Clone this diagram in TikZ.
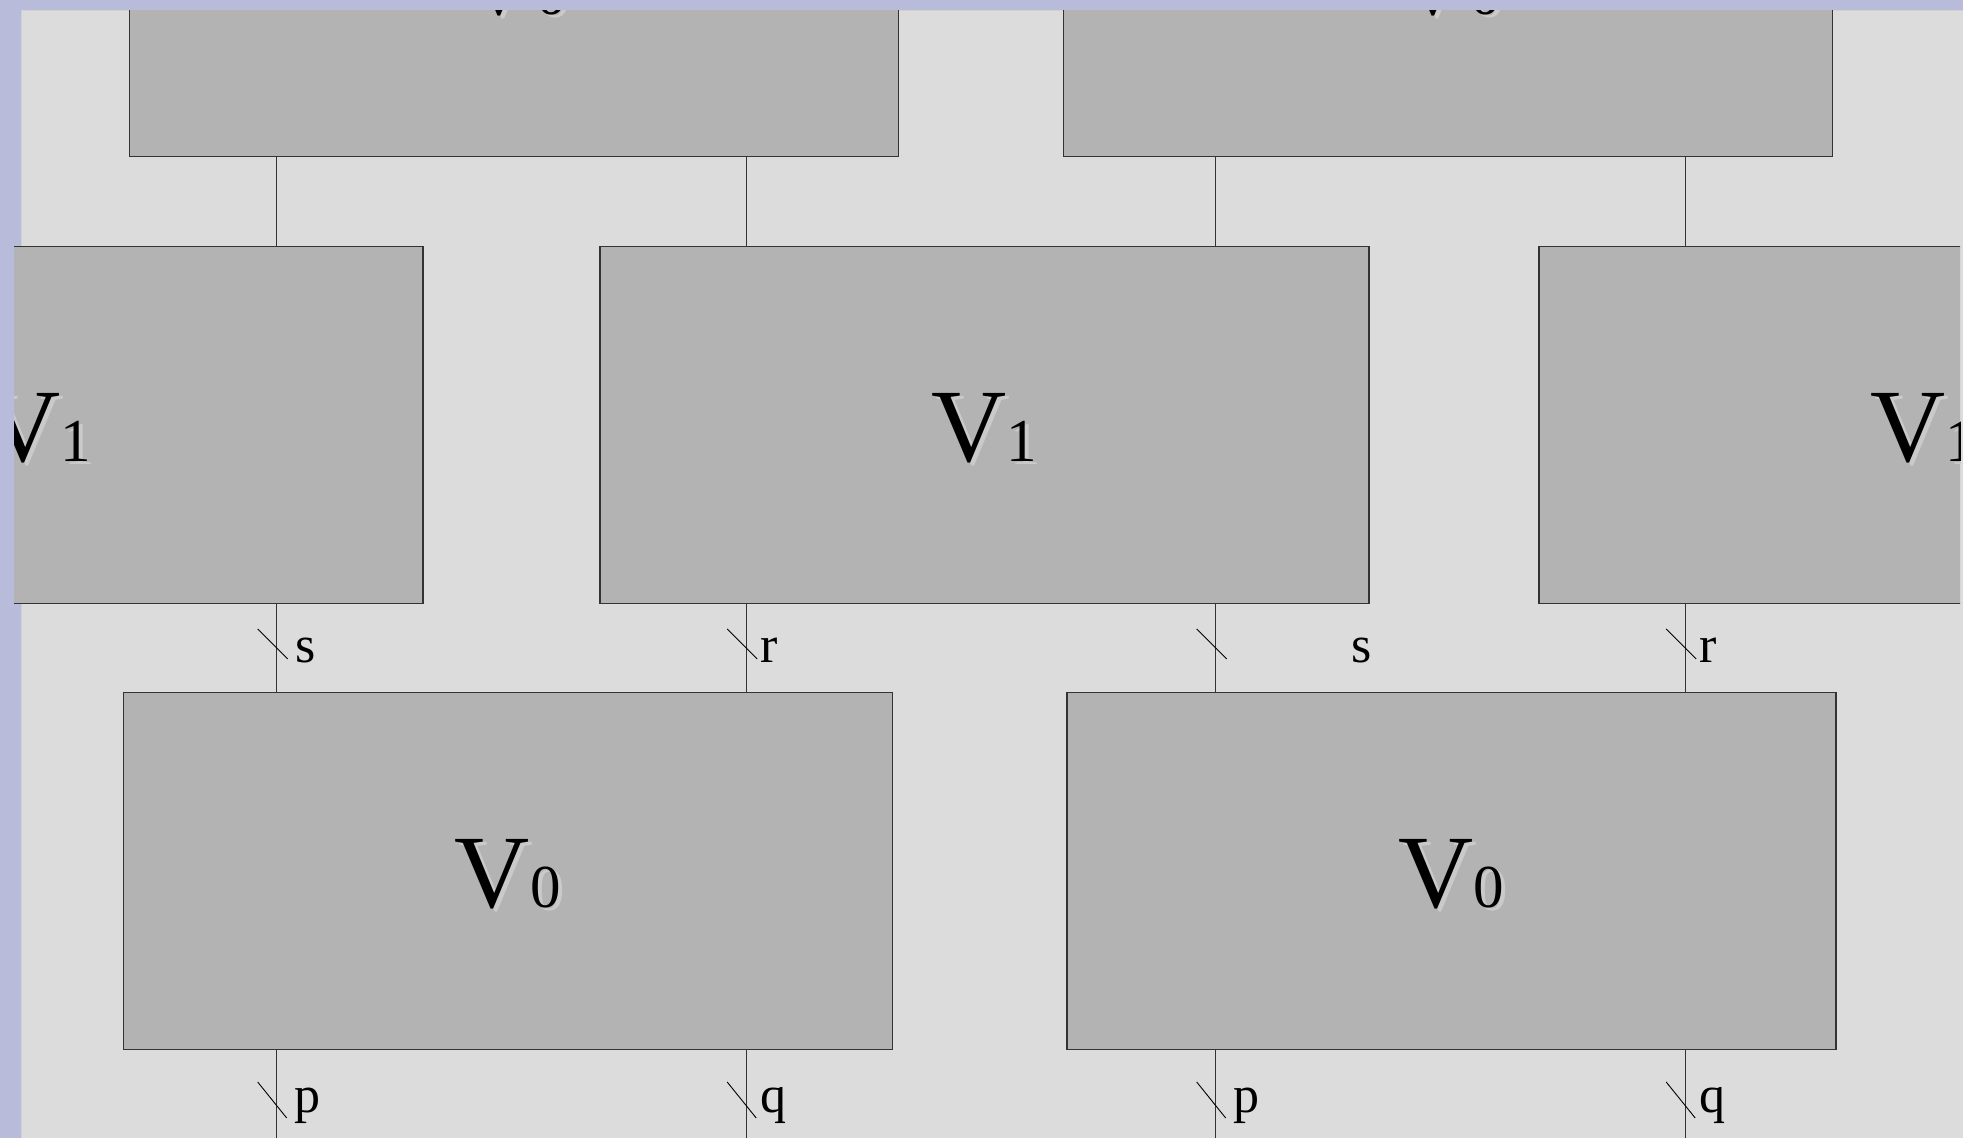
\documentclass[tikz,border=0pt]{standalone}
\usepackage{fontspec}
\setmainfont{Liberation Serif}

\newlength{\du}
\setlength{\du}{1pt}

\definecolor{framecolor}{HTML}{B8BCDA}
\definecolor{rimcolor}{HTML}{CED2CC}
\definecolor{canvascolor}{HTML}{DCDCDC}
\definecolor{gatecolor}{HTML}{B3B3B3}
\definecolor{edgecolor}{HTML}{333333}
\definecolor{shadecolor}{HTML}{CACACA}

\tikzset{
	gate/.style={draw=edgecolor, fill=gatecolor, line width=1.4\du,
		minimum width=769\du, minimum height=357\du, inner sep=0pt, outer sep=0pt},
	wire/.style={draw=black!80, line width=1.1\du},
	slash/.style={draw=black, line width=0.9\du},
	leg/.style={anchor=base west, inner sep=0pt, font=\fontsize{52}{52}\selectfont},
	gatetext/.style={anchor=base, inner sep=0pt},
	gateshade/.style={gatetext, text=shadecolor},
}

% V with its index, index set smaller on the same baseline
\newcommand{\gatename}[1]{\fontsize{104}{104}\selectfont V\fontsize{61}{61}\selectfont #1}

\begin{document}
\begin{tikzpicture}[x=\du, y=-\du]
	\useasboundingbox (0,0) rectangle (1963,1138);
	% window frame and canvas
	\fill[framecolor] (0,0) rectangle (1963,1138);
	\fill[canvascolor] (21,10) rectangle (1963,1138);
	\draw[rimcolor, line width=1\du] (21.5,1138) -- (21.5,10.5) -- (1963,10.5);

	\begin{scope}
		\clip (14,10) rectangle (1960,1138);

		% columns of the legs and rows of the slashes
		\coordinate (c1) at (276.7,0);
		\coordinate (c2) at (746.2,0);
		\coordinate (c3) at (1215.7,0);
		\coordinate (c4) at (1685.2,0);
		\coordinate (r1) at (0,648);
		\coordinate (r2) at (0,1105);
		\coordinate (r3) at (0,1138);

		% top row
		\node[gate] (top1) at (514,-22) {};
		\node[gate] (top2) at (1448,-22) {};
		% middle row
		\node[gate] (mid1) at (38.5,425) {};
		\node[gate] (mid2) at (984.3,425) {};
		\node[gate] (mid3) at (1923.5,425) {};
		% bottom row
		\node[gate] (bot1) at (507.7,871) {};
		\node[gate] (bot2) at (1451.5,871) {};

		% names with their light shade
		\foreach \g/\n in {top1/0,top2/0,mid1/1,mid2/1,mid3/1,bot1/0,bot2/0} {
			\node[gateshade] at ([shift={(4,39)}]\g.center) {\gatename{\n}};
			\node[gatetext] (\g-name) at ([shift={(0,36)}]\g.center) {\gatename{\n}};
		}

		% legs between the rows
		\draw[wire] (top1.south -| c1) -- (mid1.north -| c1);
		\draw[wire] (top1.south -| c2) -- (mid2.north -| c2);
		\draw[wire] (top2.south -| c3) -- (mid2.north -| c3);
		\draw[wire] (top2.south -| c4) -- (mid3.north -| c4);
		\draw[wire] (mid1.south -| c1) -- (bot1.north -| c1);
		\draw[wire] (mid2.south -| c2) -- (bot1.north -| c2);
		\draw[wire] (mid2.south -| c3) -- (bot2.north -| c3);
		\draw[wire] (mid3.south -| c4) -- (bot2.north -| c4);
		\foreach \i in {1,...,4} {
			\coordinate (e\i) at (c\i |- r3);
		}
		\draw[wire] (bot1.south -| c1) -- (e1);
		\draw[wire] (bot1.south -| c2) -- (e2);
		\draw[wire] (bot2.south -| c3) -- (e3);
		\draw[wire] (bot2.south -| c4) -- (e4);

		% slashes across the legs
		\foreach \i in {1,...,4} {
			\coordinate (k\i) at (c\i |- r1);
			\coordinate (m\i) at (c\i |- r2);
			\draw[slash] ([shift={(-19,-19)}]k\i) -- ([shift={(11,11)}]k\i);
			\draw[slash] ([shift={(-19,-23)}]m\i) -- ([shift={(10,13)}]m\i);
		}

		% leg labels
		\node[leg] (s1) at (295,662) {s};
		\node[leg] (r1l) at (760,662) {r};
		\node[leg] (s2) at (1351,662) {s};
		\node[leg] (r2l) at (1699,662) {r};
		\node[leg] (p1) at (294,1112) {p};
		\node[leg] (q1) at (760,1112) {q};
		\node[leg] (p2) at (1233,1112) {p};
		\node[leg] (q2) at (1699,1112) {q};
	\end{scope}
\end{tikzpicture}
\end{document}
